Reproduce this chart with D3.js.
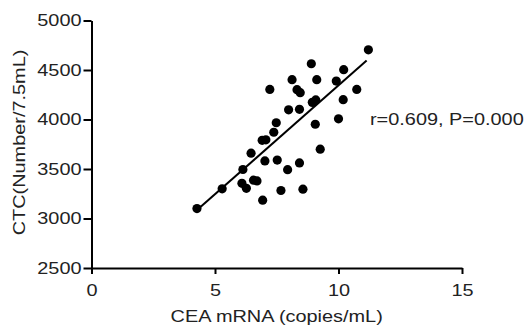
<!DOCTYPE html>
<html>
<head>
<meta charset="utf-8">
<script src="https://cdn.jsdelivr.net/npm/d3@7"></script>
<style>
  body { margin: 0; background: #fff; }
  svg text { font-family: "Liberation Sans", Arial, sans-serif; fill: #222; }
</style>
</head>
<body>
<svg id="chart" width="531" height="327"></svg>
<script>
// CEA mRNA (copies/mL) for each patient
const ceaMrna = [4.27, 5.29, 6.13, 6.46, 6.09, 6.27, 6.56, 6.70, 6.93, 6.91,
  7.06, 7.02, 7.52, 7.67, 7.38, 7.48, 7.22, 7.94, 8.42, 8.56,
  9.26, 7.98, 8.42, 9.06, 10.0, 8.94, 9.08, 10.19, 8.32, 8.45,
  10.74, 8.12, 9.12, 9.91, 8.90, 10.21, 11.21];
// CTC (Number/7.5mL), same order
const ctcCount = [3100, 3300, 3495, 3660, 3355, 3305, 3387, 3380, 3185, 3790,
  3795, 3582, 3590, 3283, 3871, 3967, 4304, 3493, 3561, 3296,
  3700, 4098, 4103, 3952, 4007, 4173, 4198, 4200, 4301, 4271,
  4304, 4402, 4402, 4388, 4563, 4503, 4704];
const xTicks = [0, 5, 10, 15];
const yTicks = [2500, 3000, 3500, 4000, 4500, 5000];
// fitted line: ctc = intercept + slope * cea, drawn over lineRange
const fitIntercept = 2146.5;
const fitSlope = 219.8;
const lineRange = [4.26, 11.14];
const statText = 'r=0.609, P=0.000';

const svg = d3.select('#chart');
const stretch = 1.17;   // the reference text is a bit wide

const x = d3.scaleLinear().domain([0, 15]).range([91.5, 462]);
const y = d3.scaleLinear().domain([2500, 5000]).range([268, 20.5]);

function widen(sel) {
  sel.each(function () {
    const t = d3.select(this);
    const tx = +t.attr('x') || 0;
    t.attr('transform', 'translate(' + (tx * (1 - stretch)) + ',0) scale(' + stretch + ',1)');
  });
}

// X axis
const xAxis = svg.append('g')
  .attr('transform', 'translate(0,' + y(2500) + ')')
  .call(d3.axisBottom(x).tickValues(xTicks).tickFormat(d3.format('d'))
    .tickSize(6).tickPadding(10).tickSizeOuter(0));
// Y axis
const yAxis = svg.append('g')
  .attr('transform', 'translate(' + x(0) + ',0)')
  .call(d3.axisLeft(y).tickValues(yTicks).tickFormat(d3.format('d'))
    .tickSize(8).tickPadding(2).tickSizeOuter(0));

[xAxis, yAxis].forEach(a => {
  a.select('.domain').attr('stroke', '#000').attr('stroke-width', 2);
  a.selectAll('.tick line').attr('stroke', '#000').attr('stroke-width', 2);
  a.selectAll('.tick text').attr('font-size', 17).attr('fill', '#222')
    .style('font-family', '"Liberation Sans", Arial, sans-serif');
  widen(a.selectAll('.tick text'));
});

// Points
svg.append('g').selectAll('circle')
  .data(ceaMrna.map((v, i) => [v, ctcCount[i]]))
  .enter()
  .append('circle')
  .attr('cx', d => x(d[0]))
  .attr('cy', d => y(d[1]))
  .attr('r', 4.6)
  .attr('fill', '#000');

// Regression line
svg.append('line')
  .attr('x1', x(lineRange[0]))
  .attr('y1', y(fitIntercept + fitSlope * lineRange[0]))
  .attr('x2', x(lineRange[1]))
  .attr('y2', y(fitIntercept + fitSlope * lineRange[1]))
  .attr('stroke', '#000')
  .attr('stroke-width', 2);

// Labels
svg.append('text')
  .attr('transform', 'translate(276.7,322) scale(' + stretch + ',1)')
  .attr('text-anchor', 'middle')
  .attr('font-size', 17)
  .text('CEA mRNA (copies/mL)');

svg.append('text')
  .attr('transform', 'translate(25,142.5) rotate(-90) scale(' + stretch + ',1)')
  .attr('text-anchor', 'middle')
  .attr('font-size', 17)
  .text('CTC(Number/7.5mL)');

svg.append('text')
  .attr('transform', 'translate(370,125.3) scale(' + stretch + ',1)')
  .attr('font-size', 17)
  .text(statText);
</script>
</body>
</html>
